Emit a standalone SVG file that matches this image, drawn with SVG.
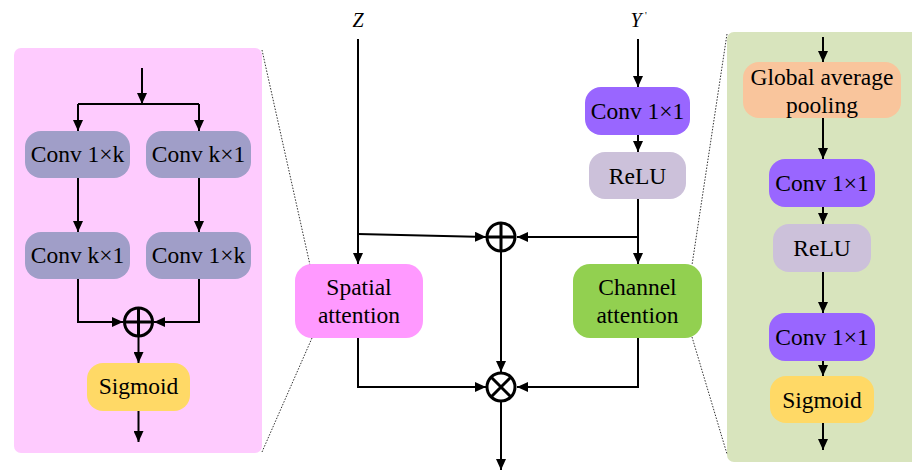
<svg xmlns="http://www.w3.org/2000/svg" width="912" height="472" viewBox="0 0 912 472">
<defs>
<marker id="ah" markerUnits="userSpaceOnUse" markerWidth="12" markerHeight="10" refX="11" refY="5" orient="auto">
<path d="M0,0 L11,5 L0,10 z" fill="#000"/>
</marker>
</defs>
<style>
text{font-family:"Liberation Serif","Times New Roman",serif;font-size:23.5px;fill:#000;text-anchor:middle}
.ln{stroke:#000;stroke-width:2;fill:none}
.arr{stroke:#000;stroke-width:2;fill:none;marker-end:url(#ah)}
.dot{stroke:#333;stroke-width:1;stroke-dasharray:1.5 1.5;fill:none}
.op{stroke:#000;stroke-width:3;fill:none}
.gray{fill:#A09EC8}
.purple{fill:#9966FF}
.relu{fill:#CCC1DA}
.yellow{fill:#FFD966}
</style>
<rect width="912" height="472" fill="#fff"/>
<g id="panels">
<rect x="14" y="48" width="248" height="405" rx="7" fill="#FECBFE"/>
<rect x="727" y="32" width="200" height="430" rx="7" fill="#D8E4BD"/>
<path class="dot" d="M262,50 L310,265 M312,338 L262,452 M727,34 L692,265 M692,337 L727,454"/>
</g>
<g id="connectors">
<path class="arr" d="M142,68 L142,104"/>
<path class="ln" d="M78,104 L199,104"/>
<path class="arr" d="M78,104 L78,131"/>
<path class="arr" d="M199,104 L199,131"/>
<path class="arr" d="M78,178 L78,232"/>
<path class="arr" d="M199,178 L199,232"/>
<path class="arr" d="M78,279 L78,322 L123,322"/>
<path class="arr" d="M199,279 L199,322 L154,322"/>
<path class="arr" d="M138.5,337 L138.5,363"/>
<path class="arr" d="M138.5,411 L138.5,442"/>
<path class="arr" d="M358,39 L358,264"/>
<path class="arr" d="M358,234 L486,237"/>
<path class="arr" d="M638,39 L638,87"/>
<path class="arr" d="M638,135 L638,152"/>
<path class="arr" d="M638,199 L638,264"/>
<path class="arr" d="M638,237 L517,237"/>
<path class="arr" d="M501,252 L501,372"/>
<path class="arr" d="M358,338 L358,387 L486,387"/>
<path class="arr" d="M638,338 L638,387 L517,387"/>
<path class="arr" d="M501,402 L501,470"/>
<path class="arr" d="M823,37 L823,62"/>
<path class="arr" d="M823,118 L823,159"/>
<path class="arr" d="M823,207 L823,224"/>
<path class="arr" d="M823,272 L823,313"/>
<path class="arr" d="M823,361 L823,376"/>
<path class="arr" d="M823,423 L823,450"/>
</g>
<g id="conv1k_a"><rect class="gray" x="25" y="131" width="105" height="47" rx="16"/><text x="77.5" y="162">Conv 1×k</text></g>
<g id="convk1_a"><rect class="gray" x="146" y="131" width="105" height="47" rx="16"/><text x="198.5" y="162">Conv k×1</text></g>
<g id="convk1_b"><rect class="gray" x="25" y="232" width="105" height="47" rx="16"/><text x="77.5" y="263">Conv k×1</text></g>
<g id="conv1k_b"><rect class="gray" x="146" y="232" width="105" height="47" rx="16"/><text x="198.5" y="263">Conv 1×k</text></g>
<g id="plus_left"><circle class="op" cx="138.5" cy="322" r="14"/><path class="op" d="M124.5,322 H152.5 M138.5,308 V336"/></g>
<g id="sigmoid_left"><rect class="yellow" x="87" y="363" width="103" height="48" rx="16"/><text x="138.5" y="394">Sigmoid</text></g>
<g id="label_z"><text x="358" y="27" style="font-style:italic;font-size:20px">Z</text></g>
<g id="label_y"><text x="636" y="27" style="font-style:italic;font-size:20px">Y</text><text x="646" y="19" style="font-size:10px">'</text></g>
<g id="spatial"><rect x="295" y="264" width="128" height="74" rx="17" fill="#FF99FF"/><text x="359" y="295">Spatial</text><text x="359" y="323">attention</text></g>
<g id="channel"><rect x="573" y="264" width="129" height="74" rx="17" fill="#92D050"/><text x="637.5" y="295">Channel</text><text x="637.5" y="323">attention</text></g>
<g id="conv_mid"><rect class="purple" x="585" y="87" width="105" height="48" rx="16"/><text x="637.5" y="119">Conv 1×1</text></g>
<g id="relu_mid"><rect class="relu" x="589" y="152" width="97" height="47" rx="16"/><text x="637.5" y="184">ReLU</text></g>
<g id="plus_mid"><circle class="op" cx="501" cy="237" r="14"/><path class="op" d="M487,237 H515 M501,223 V251"/></g>
<g id="times_mid"><circle class="op" cx="501" cy="387" r="14"/><path class="op" d="M491,377 L511,397 M511,377 L491,397"/></g>
<g id="gap"><rect x="743" y="62" width="158" height="56" rx="16" fill="#F9C59C"/><text x="822" y="85">Global average</text><text x="822" y="113">pooling</text></g>
<g id="conv_r1"><rect class="purple" x="769" y="159" width="106" height="48" rx="16"/><text x="822" y="191">Conv 1×1</text></g>
<g id="relu_r"><rect class="relu" x="773" y="224" width="98" height="48" rx="16"/><text x="822" y="256">ReLU</text></g>
<g id="conv_r2"><rect class="purple" x="769" y="313" width="106" height="48" rx="16"/><text x="822" y="345">Conv 1×1</text></g>
<g id="sigmoid_r"><rect class="yellow" x="770" y="376" width="104" height="47" rx="16"/><text x="822" y="408">Sigmoid</text></g>
</svg>
